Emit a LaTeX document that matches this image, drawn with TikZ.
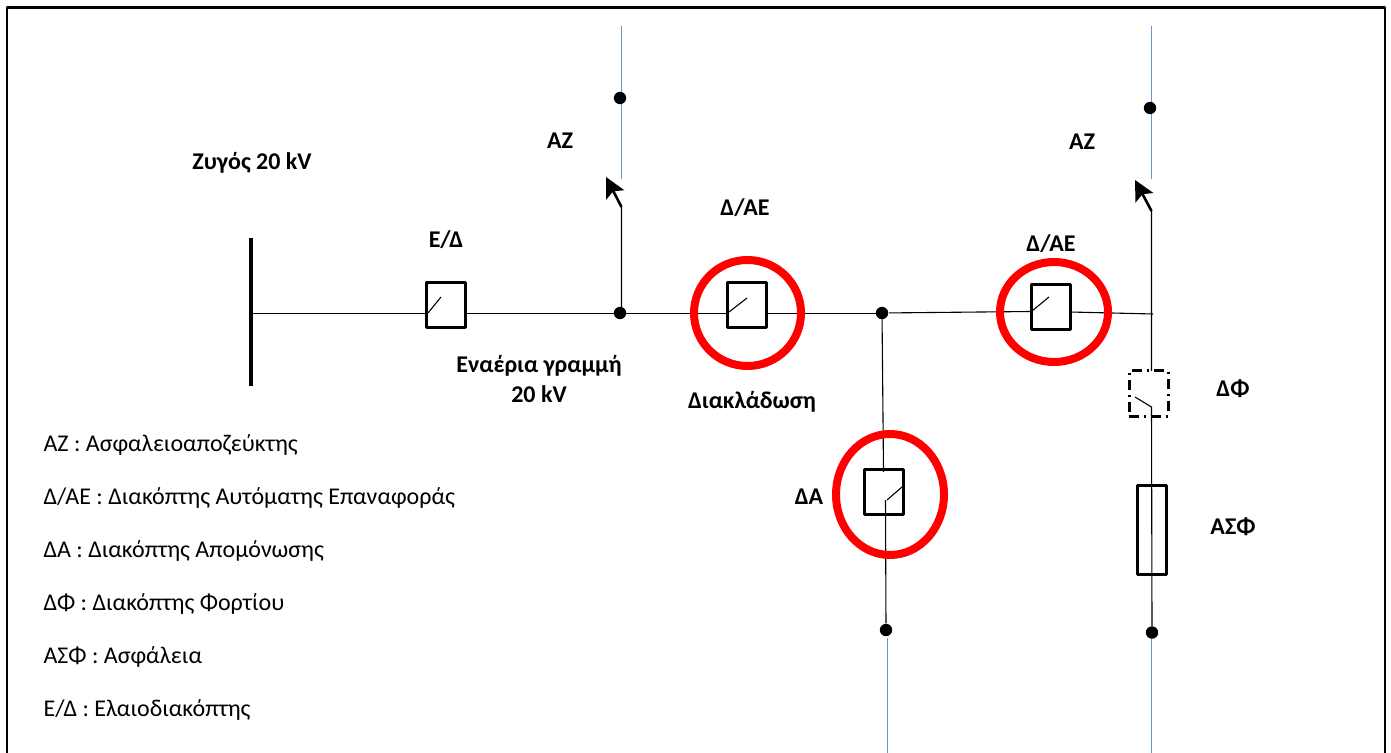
\documentclass[tikz,border=0pt]{standalone}
\usepackage{fontspec}
\setmainfont{Carlito}
\usetikzlibrary{arrows.meta}
\definecolor{feedblue}{HTML}{5B9BD5}
\tikzset{
	lbl/.style={font=\fontsize{12}{14}\selectfont\bfseries,align=center,inner sep=0pt},
	leg/.style={font=\fontsize{12}{14}\selectfont,anchor=west,inner sep=0pt},
	sw/.style={draw,line width=1.5pt,minimum width=19.5pt,minimum height=22.5pt,inner sep=0pt},
	dot/.style={circle,fill=black,inner sep=0pt,minimum size=6.2pt},
	ring/.style={draw=red,line width=4pt},
	feeder/.style={draw=feedblue,line width=.5pt},
	afz/.style={line width=1.3pt,-{Stealth[length=10pt,width=10pt,inset=2pt]}}
}
\begin{document}
\begin{tikzpicture}[x=.5pt,y=-.5pt,line join=round,line width=.55pt]
	\useasboundingbox (0,0) rectangle (1391,753);
	\draw[line width=1.3pt] (7,753)--(7,7.5)--(1385,7.5)--(1385,753);
	% nodes of the network
	\path (251,313.5)coordinate(W)+(0,-75)coordinate(Wt)+(0,73)coordinate(Wb);
	\path (1153,314)coordinate(R)(1031,311.5)coordinate(Ql)(1070,312)coordinate(Qr);
	\path (621.5,207)coordinate(Z1)(1151.5,211)coordinate(Z2)(606,177)coordinate(Z1t)(1135,180)coordinate(Z2t);
	\path (621,26)coordinate(F1t)(621,179)coordinate(F1b)(1151,26)coordinate(F2t)(1151,179)coordinate(F2b);
	\path (887,638)coordinate(F3t)(887,753)coordinate(F3b)(1151,638)coordinate(F4t)(1151,753)coordinate(F4b);
	\path (883.5,472)coordinate(Da)(885.5,500)coordinate(Db)(1151.5,371)coordinate(Fa)(1151.5,407)coordinate(Fb);
	\foreach \a/\b in {F1t/F1b,F2t/F2b,F3t/F3b,F4t/F4b}
	\draw[feeder] (\a)--(\b);
	\foreach \i/\x/\y in {D1/620/98,D2/1150/108,P/620/313,Q/882/313,D3/886/630,D4/1152/632.5}
	\node[dot] (\i) at (\x,\y) {};
	\node[sw] (ED) at (446,305.5) {};
	\node[sw] (AE1) at (746.5,305.5) {};
	\node[sw] (AE2) at (1050.5,307.5) {};
	\node[sw] (DA) at (884,491.5) {};
	\node[sw,dash pattern=on 5pt off 2.5pt on 1pt off 2.5pt] (DF) at (1148.5,393.5) {};
	\node[sw,minimum width=14.5pt,minimum height=44.5pt] (AS) at (1151.5,529.5) {};
	% lines
	\draw[line width=2pt] (Wt)--(Wb);
	\draw (W)--(W-|ED.west) (ED.east|-W)--(W-|P)--(W-|AE1.west) (W-|AE1.east)--(W-|Q);
	\draw (Q)--(Ql) (Qr)--(R);
	\draw (Z1)--(Z1|-P) (Q.center)--(Da) (Db)--(D3);
	\draw (Z2)--(Fa) (Fb)--(D4);
	\draw[afz] (Z1)--(Z1t);
	\draw[afz] (Z2)--(Z2t);
	% contact blades
	\draw (428,313)--(441,297);
	\draw (729,312)--(747,298);
	\draw (1032,311)--(1049,297);
	\draw (887,500)--(902,487);
	\draw (1135,397)--(Fb);
	% rings
	\foreach \x/\y/\a/\b in {747.5/313/53.5/53,1054/312/54/50,890/494.5/54/60.5}
	\draw[ring] (\x,\y) ellipse[x radius=\a,y radius=\b];
	% labels
	\node[lbl] (bus) at (252,163) {Ζυγός 20 kV};
	\node[lbl] at (446,240) {Ε/Δ};
	\node[lbl] at (560,141) {ΑΖ};
	\node[lbl] at (1082,142) {ΑΖ};
	\node[lbl] at (745,208) {Δ/ΑΕ};
	\node[lbl] at (1051,244) {Δ/ΑΕ};
	\node[lbl] at (539,379) {Εναέρια γραμμή\\[1pt]20 kV};
	\node[lbl] at (752,402) {Διακλάδωση};
	\node[lbl] at (809,497) {ΔΑ};
	\node[lbl] at (1233,389) {ΔΦ};
	\node[lbl] at (1233,527) {ΑΣΦ};
	% legend
	\foreach \y/\t in {445/{ΑΖ : Ασφαλειοαποζεύκτης},498/{Δ/ΑΕ : Διακόπτης Αυτόματης Επαναφοράς},551/{ΔΑ : Διακόπτης Απομόνωσης},604/{ΔΦ : Διακόπτης Φορτίου},657/{ΑΣΦ : Ασφάλεια},710/{Ε/Δ : Ελαιοδιακόπτης}}
	\node[leg] at (43,\y) {\t};
\end{tikzpicture}
\end{document}
